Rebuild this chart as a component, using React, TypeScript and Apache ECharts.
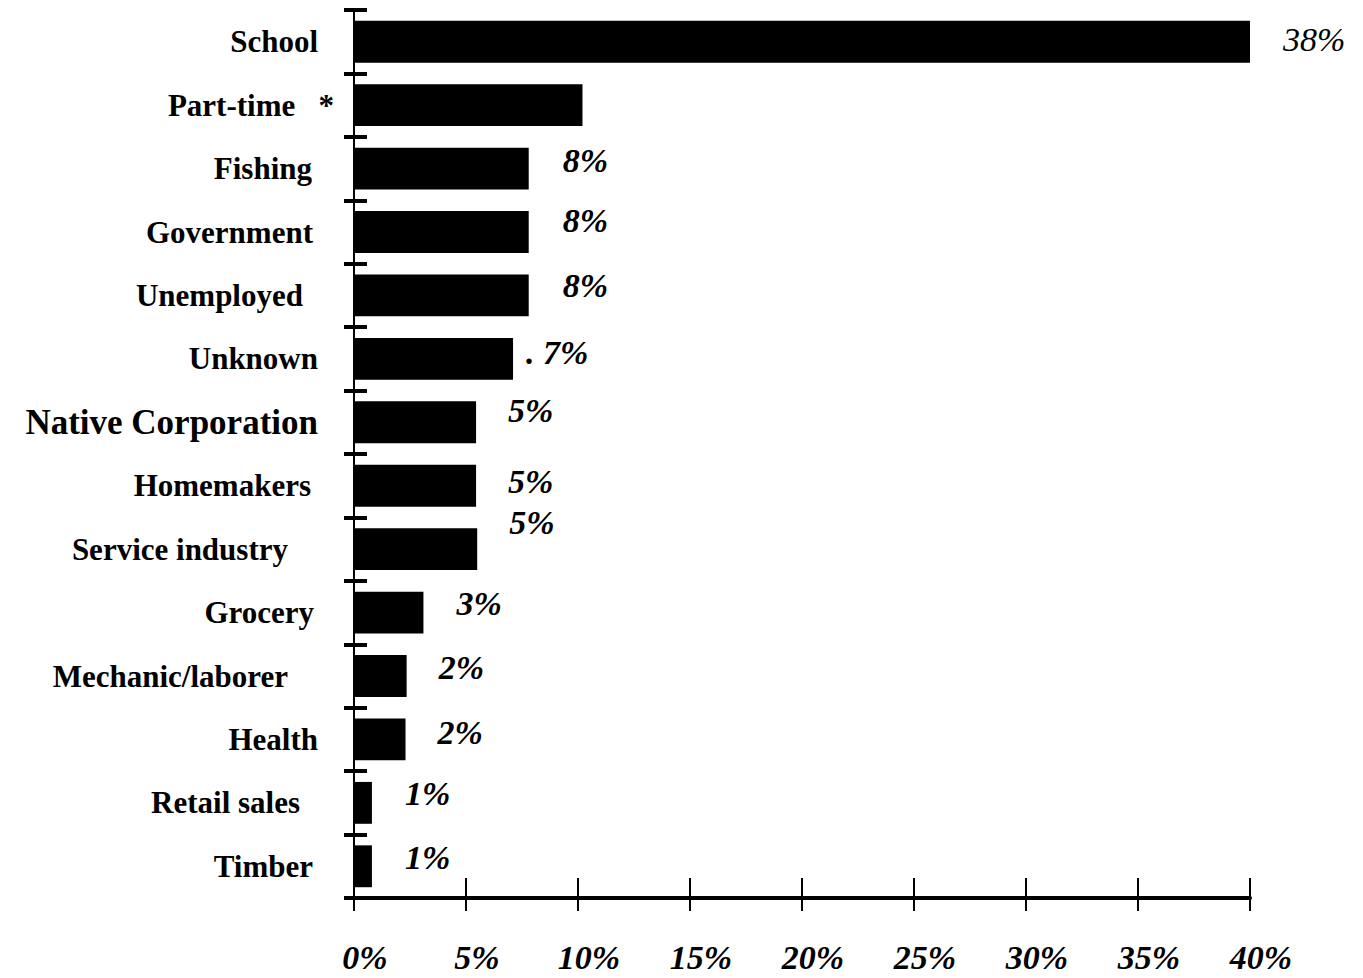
import React, { useEffect, useRef } from "react";
import * as echarts from "echarts";

const categories = [
  "School",
  "Part-time   *",
  "Fishing",
  "Government",
  "Unemployed",
  "Unknown",
  "Native Corporation",
  "Homemakers",
  "Service industry",
  "Grocery",
  "Mechanic/laborer",
  "Health",
  "Retail sales",
  "Timber",
];

// bar lengths as drawn (percent of axis)
const barValues = [40.1, 10.2, 7.8, 7.8, 7.8, 7.1, 5.45, 5.45, 5.5, 3.1, 2.35, 2.3, 0.8, 0.8];

// printed value labels
const valueLabels = ["38%", "", "8%", "8%", "8%", ". 7%", "5%", "5%", "5%", "3%", "2%", "2%", "1%", "1%"];

const xTicks = [0, 5, 10, 15, 20, 25, 30, 35, 40];

// layout tweaks (right padding of category labels, scan irregularities)
const labelPadRight = [16, 0, 22, 21, 31, 16, 16, 23, 46, 20, 46, 16, 34, 21];
const labelShiftY = [-2, 0, -3, -4, 0, -4, -7, -3, 2, -3, -2, -2, -3, -2];
const valueShiftY = [-2, 0, -8, -12, -10, -6, -12, -4, -27, -9, -9, -7, -9, -9];
const valueDistance = [33, 33, 34, 34, 34, 13, 32, 32, 32, 33, 32, 32, 33, 33];

const SERIF = "'Liberation Serif', 'Times New Roman', serif";

export default function App() {
  const ref = useRef<HTMLDivElement>(null);

  useEffect(() => {
    if (!ref.current) return;
    const chart = echarts.init(ref.current, null, { renderer: "svg" });

    const yData = categories.map((c, i) => ({
      value: c,
      textStyle: {
        padding: [labelShiftY[i] < 0 ? 0 : labelShiftY[i] * 2, labelPadRight[i], labelShiftY[i] < 0 ? -labelShiftY[i] * 2 : 0, 0],
        fontSize: i === 6 ? 35 : 31,
      },
    }));

    const seriesData = barValues.map((v, i) => ({
      value: v,
      label: {
        show: valueLabels[i] !== "",
        formatter: valueLabels[i],
        distance: valueDistance[i],
        offset: [0, valueShiftY[i]],
        fontWeight: i === 0 ? "normal" : "bold",
      },
    }));

    const xMax = xTicks[xTicks.length - 1];
    const xInterval = xTicks[1] - xTicks[0];

    chart.setOption({
      animation: false,
      backgroundColor: "#ffffff",
      grid: { left: 354, right: 113, top: 10, bottom: 80, containLabel: false },
      xAxis: [
        {
          type: "value",
          min: 0,
          max: xMax,
          interval: xInterval,
          position: "bottom",
          axisLine: { show: true, lineStyle: { color: "#000", width: 4 } },
          axisTick: { show: true, inside: false, length: 13, lineStyle: { color: "#000", width: 2 } },
          splitLine: { show: false },
          axisLabel: {
            margin: 42,
            padding: [0, 0, 0, 22],
            formatter: "{value}%",
            color: "#000",
            fontFamily: SERIF,
            fontWeight: "bold",
            fontStyle: "italic",
            fontSize: 34,
          },
        },
        {
          type: "value",
          min: 0,
          max: xMax,
          interval: xInterval,
          position: "bottom",
          axisLine: { show: false },
          axisTick: { show: true, inside: true, length: 20, lineStyle: { color: "#000", width: 2 } },
          splitLine: { show: false },
          axisLabel: { show: false },
        },
      ],
      yAxis: [
        {
          type: "category",
          inverse: true,
          data: yData,
          axisLine: { show: true, lineStyle: { color: "#000", width: 2 } },
          axisTick: { show: true, inside: false, length: 10, lineStyle: { color: "#000", width: 4 } },
          axisLabel: {
            margin: 20,
            color: "#000",
            fontFamily: SERIF,
            fontWeight: "bold",
            fontSize: 31,
            interval: 0,
          },
        },
        {
          type: "category",
          inverse: true,
          data: categories,
          position: "left",
          axisLine: { show: false },
          axisTick: { show: true, inside: true, length: 13, lineStyle: { color: "#000", width: 4 } },
          axisLabel: { show: false },
        },
      ],
      series: [
        {
          type: "bar",
          xAxisIndex: 0,
          yAxisIndex: 0,
          data: seriesData,
          barCategoryGap: "34%",
          itemStyle: { color: "#000" },
          label: {
            show: true,
            position: "right",
            color: "#000",
            fontFamily: SERIF,
            fontStyle: "italic",
            fontWeight: "bold",
            fontSize: 34,
          },
        },
      ],
    });

    return () => chart.dispose();
  }, []);

  return (
    <div
      ref={ref}
      style={{ position: "absolute", left: 0, top: 0, width: 1363, height: 978, background: "#fff" }}
    />
  );
}
